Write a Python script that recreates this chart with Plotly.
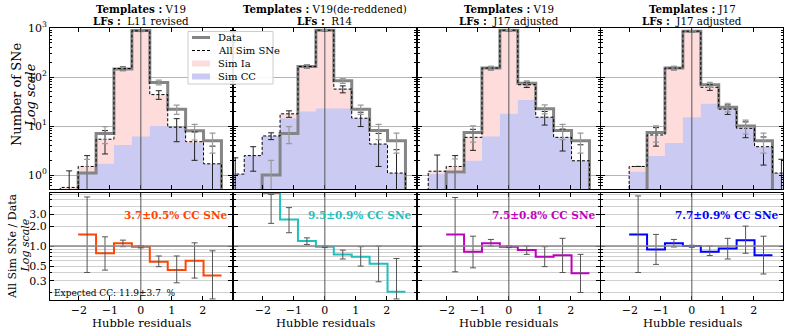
import plotly.graph_objects as go
from plotly.subplots import make_subplots

# histogram binning (Hubble residuals)
edges = [-3.178, -2.6, -2.022, -1.444, -0.867, -0.289, 0.289, 0.867, 1.444, 2.022, 2.6, 3.178]
centers = [-2.889, -2.311, -1.733, -1.156, -0.578, 0.0, 0.578, 1.156, 1.733, 2.311, 2.889]
xticks = [-2, -1, 0, 1, 2]

templates = ["V19", "V19(de-reddened)", "V19", "J17"]
lfs = ["L11 revised", "R14", "J17 adjusted", "J17 adjusted"]
cc_labels = ["3.7±0.5% CC SNe", "9.5±0.9% CC SNe", "7.5±0.8% CC SNe", "7.7±0.9% CC SNe"]
expected_cc = "Expected CC: 11.9±3.7  %"
legend_names = ["Data", "All Sim SNe", "Sim Ia", "Sim CC"]

# top panels: counts per bin
data_p1 = [0, 0, 1.1, 7.1, 146, 900, 78, 22, 8.0, 5.0, 0]
sim_p1 = [0, 0.56, 1.5, 5.4, 150, 880, 44, 9.5, 4.8, 1.7, 0]
cc_p1 = [0, 0, 1.15, 1.7, 4.1, 6.1, 10, 9.5, 4.6, 1.7, 0]
err_p1 = [0, 0.66, 1.0, 2.7, 12, 30, 8.8, 4.7, 2.8, 2.2, 0]

data_p2 = [0, 0, 1.0, 7.1, 165, 907, 84, 22, 8.1, 5.0, 0]
sim_p2 = [1.05, 2.5, 6.3, 17.8, 165, 907, 57, 14.5, 4.3, 1.1, 0]
cc_p2 = [1.05, 2.5, 6.3, 14.5, 19.8, 23, 23, 14.5, 4.3, 1.1, 0]
err_p2 = [1.2, 1.3, 1.0, 2.7, 12.8, 30, 9.2, 4.7, 2.8, 2.2, 0]

data_p3 = [0, 0, 1.15, 7.4, 153, 907, 75, 22.5, 8.1, 5.0, 0]
sim_p3 = [0, 1.2, 1.5, 5.9, 153, 907, 70, 15.2, 5.9, 1.96, 0]
cc_p3 = [0, 1.05, 1.05, 1.96, 6.1, 17.8, 34, 15.2, 5.9, 1.96, 0]
err_p3 = [0, 1.37, 1.0, 2.7, 12.4, 30, 8.7, 4.7, 2.8, 2.2, 0]

data_p4 = [0, 0, 0, 7.4, 153, 866, 70, 24.4, 10.1, 5.0, 0]
sim_p4 = [0, 0, 1.5, 6.6, 153, 866, 62, 22.2, 9.0, 3.8, 1.1]
cc_p4 = [0, 0, 1.17, 2.45, 4.5, 15.2, 28.5, 22.2, 9.0, 3.8, 1.1]
err_p4 = [0, 0, 0, 2.7, 12.4, 29, 8.4, 4.9, 3.2, 2.2, 1.0]

# bottom panels: All Sim SNe / Data (bins -1.73 .. 2.31)
ratio_p1 = [1.50, 0.78, 1.10, 0.98, 0.58, 0.435, 0.60, 0.36]
ratio_lo_p1 = [0.40, 0.435, 0.98, 0.94, 0.49, 0.28, 0.33, 0.16]
ratio_hi_p1 = [5.5, 1.38, 1.23, 1.02, 0.71, 0.71, 1.12, 0.85]

ratio_p2 = [6.3, 2.52, 1.19, 0.98, 0.75, 0.69, 0.54, 0.205]
ratio_lo_p2 = [2.2, 1.59, 1.06, 0.95, 0.64, 0.50, 0.29, 0.16]
ratio_hi_p2 = [6.0, 3.8, 1.33, 1.0, 0.87, 0.98, 1.0, 0.65]

ratio_p3 = [1.50, 0.82, 1.10, 0.98, 0.87, 0.69, 0.73, 0.39]
ratio_lo_p3 = [0.41, 0.47, 1.0, 0.95, 0.75, 0.49, 0.40, 0.20]
ratio_hi_p3 = [5.4, 1.41, 1.26, 1.02, 1.0, 0.98, 1.31, 0.75]

ratio_p4 = [1.50, 0.89, 1.10, 1.0, 0.82, 0.92, 1.23, 0.73]
ratio_lo_p4 = [0.40, 0.53, 0.97, 0.96, 0.72, 0.64, 0.78, 0.38]
ratio_hi_p4 = [5.7, 1.5, 1.26, 1.03, 1.0, 1.31, 2.0, 1.41]

data_all = [data_p1, data_p2, data_p3, data_p4]
sim_all = [sim_p1, sim_p2, sim_p3, sim_p4]
cc_all = [cc_p1, cc_p2, cc_p3, cc_p4]
err_all = [err_p1, err_p2, err_p3, err_p4]
ratio_all = [ratio_p1, ratio_p2, ratio_p3, ratio_p4]
ratio_lo_all = [ratio_lo_p1, ratio_lo_p2, ratio_lo_p3, ratio_lo_p4]
ratio_hi_all = [ratio_hi_p1, ratio_hi_p2, ratio_hi_p3, ratio_hi_p4]

ratio_colors = ["#ff4500", "#1fbfbf", "#bf00bf", "#0000ff"]
IA_COLOR, CC_COLOR, DATA_COLOR = "#ffdcdc", "#cacaf2", "#858585"
FONT = "DejaVu Serif"
FLOOR = 0.01


def step_xy(e, v):
    xs, ys = [], []
    for i, val in enumerate(v):
        y = val if val > 0 else FLOOR
        xs += [e[i], e[i + 1]]
        ys += [y, y]
    return xs, ys


def fill_xy(e, v):
    xs, ys = step_xy(e, v)
    return xs + [xs[-1], xs[0]], ys + [FLOOR, FLOOR]


fig = make_subplots(rows=2, cols=4)

# pixel geometry of the page
W, H = 789, 331
PL, PR, PT, PB = 50, 783, 28, 300  # plotting area
PW, PH = PR - PL, PB - PT
cols_px = [(50, 232), (234, 416), (418, 600), (601, 783)]
top_px, bot_px = (28, 189), (193, 300)


def px(x):
    return (x - PL) / PW


def py(y):
    return (PB - y) / PH


top_minor = [m * 10 ** d for d in range(-1, 3) for m in range(2, 10)]
bot_minor = [m * 10 ** d for d in range(-1, 1) for m in range(1, 10)]

for k in range(4):
    col = k + 1
    first = k == 0
    # --- top panel ---
    xs, ys = fill_xy(edges, sim_all[k])
    fig.add_trace(go.Scatter(x=xs, y=ys, fill="toself", fillcolor=IA_COLOR, line=dict(width=0),
                             mode="lines", hoverinfo="skip"), row=1, col=col)
    xs, ys = fill_xy(edges, cc_all[k])
    fig.add_trace(go.Scatter(x=xs, y=ys, fill="toself", fillcolor=CC_COLOR, line=dict(width=0),
                             mode="lines", hoverinfo="skip"), row=1, col=col)
    xs, ys = step_xy(edges, data_all[k])
    fig.add_trace(go.Scatter(x=xs, y=ys, mode="lines", line=dict(color=DATA_COLOR, width=3)),
                  row=1, col=col)
    xs, ys = step_xy(edges, sim_all[k])
    fig.add_trace(go.Scatter(x=xs, y=ys, mode="lines",
                             line=dict(color="black", width=1, dash="3px,2px")), row=1, col=col)
    # error bars: sim (black) and data (grey)
    sx = [c for c, s in zip(centers, sim_all[k]) if s > 0]
    sy = [s for s in sim_all[k] if s > 0]
    se = [e for e, s in zip(err_all[k], sim_all[k]) if s > 0]
    fig.add_trace(go.Scatter(x=sx, y=sy, mode="markers", marker=dict(size=1, color="rgba(0,0,0,0)"),
                             error_y=dict(type="data", array=se, color="#222222", thickness=1, width=3),
                             hoverinfo="skip"), row=1, col=col)
    dx = [c for c, d in zip(centers, data_all[k]) if d > 0]
    dy = [d for d in data_all[k] if d > 0]
    de = [e for e, d in zip(err_all[k], data_all[k]) if d > 0]
    fig.add_trace(go.Scatter(x=dx, y=dy, mode="markers", marker=dict(size=1, color="rgba(0,0,0,0)"),
                             error_y=dict(type="data", array=de, color="#9a9a9a", thickness=1.2, width=3),
                             hoverinfo="skip"), row=1, col=col)

    # --- bottom panel ---
    xs, ys = step_xy(edges[2:11], ratio_all[k])
    fig.add_trace(go.Scatter(x=xs, y=ys, mode="lines", line=dict(color=ratio_colors[k], width=2)),
                  row=2, col=col)
    lo = ratio_lo_all[k]
    hi = ratio_hi_all[k]
    fig.add_trace(go.Scatter(x=centers[2:10], y=lo, mode="markers",
                             marker=dict(size=1, color="rgba(0,0,0,0)"),
                             error_y=dict(type="data", array=[h - l for h, l in zip(hi, lo)],
                                          arrayminus=[0] * len(lo), color="#555555",
                                          thickness=1, width=3),
                             hoverinfo="skip"), row=2, col=col)

    a, b = cols_px[k]
    axis_common = dict(showline=True, linecolor="black", linewidth=1, mirror="ticks",
                       ticks="inside", tickcolor="black", zeroline=False, automargin=False,
                       tickfont=dict(family=FONT, size=11, color="black"))
    fig.update_xaxes(domain=[px(a), px(b)], range=[-2.93, 2.94], tickvals=xticks,
                     ticktext=["−2", "−1", "0", "1", "2"], showgrid=False, showticklabels=False,
                     ticklen=4, row=1, col=col, **axis_common)
    fig.update_xaxes(domain=[px(a), px(b)], range=[-2.93, 2.94], tickvals=xticks,
                     ticktext=["−2", "−1", "0", "1", "2"], showgrid=False, ticklen=4,
                     row=2, col=col, **axis_common)
    fig.update_yaxes(domain=[py(top_px[1]), py(top_px[0])], type="log", range=[-0.284, 3.003],
                     tickvals=[1, 10, 100, 1000],
                     ticktext=["10<sup>0</sup>", "10<sup>1</sup>", "10<sup>2</sup>", "10<sup>3</sup>"],
                     showgrid=True, gridcolor="#b4b4b4", gridwidth=1, ticklen=4,
                     showticklabels=first,
                     minor=dict(tickvals=top_minor, ticks="inside", ticklen=2, tickcolor="black",
                                showgrid=False),
                     row=1, col=col, **axis_common)
    fig.update_yaxes(domain=[py(bot_px[1]), py(bot_px[0])], type="log", range=[-0.812, 0.8],
                     tickvals=[0.3, 0.5, 1.0, 2.0, 3.0],
                     ticktext=["0.3", "0.5", "1.0", "2.0", "3.0"],
                     showgrid=True, gridcolor="#cfcfcf", gridwidth=1.3, ticklen=4,
                     showticklabels=first,
                     minor=dict(tickvals=bot_minor, ticks="inside", ticklen=2, tickcolor="black",
                                showgrid=True, gridcolor="#cfcfcf", gridwidth=1.3),
                     row=2, col=col, **axis_common)

    # reference lines
    xr = "x" if col == 1 else f"x{col}"
    yr = "y" if col == 1 else f"y{col}"
    fig.add_shape(type="line", xref=xr, yref=f"{yr} domain", x0=0, x1=0, y0=0, y1=1,
                  line=dict(color="#555555", width=1))
    fig.add_shape(type="line", xref=f"x{col + 4}", yref=f"y{col + 4} domain", x0=0, x1=0, y0=0, y1=1,
                  line=dict(color="#555555", width=1))
    fig.add_shape(type="line", xref=f"x{col + 4} domain", yref=f"y{col + 4}", x0=0, x1=1, y0=1, y1=1,
                  line=dict(color="#8a8a8a", width=1.5))

    # titles
    xc = px((a + b) / 2)
    fig.add_annotation(x=xc, y=py(9.5), xref="paper", yref="paper", xanchor="center", yanchor="middle",
                       text=f"<b>Templates :</b> {templates[k]}", showarrow=False,
                       font=dict(family=FONT, size=10.3, color="black"))
    fig.add_annotation(x=xc, y=py(21.5), xref="paper", yref="paper", xanchor="center", yanchor="middle",
                       text=f"<b>LFs :</b>  {lfs[k]}", showarrow=False,
                       font=dict(family=FONT, size=10.3, color="black"))
    # x-axis title
    fig.add_annotation(x=xc, y=py(322.5), xref="paper", yref="paper", xanchor="center", yanchor="middle",
                       text="Hubble residuals", showarrow=False,
                       font=dict(family=FONT, size=11.5, color="black"))
    # CC fraction text
    fig.add_annotation(x=px(b - 2), y=py(215), xref="paper", yref="paper",
                       text=f"<b>{cc_labels[k]}</b>", showarrow=False, xanchor="right",
                       yanchor="middle", font=dict(family=FONT, size=10.5, color=ratio_colors[k]))

fig.add_annotation(x=px(52), y=py(293), xref="paper", yref="paper",
                   text=expected_cc, showarrow=False, xanchor="left", yanchor="middle",
                   font=dict(family=FONT, size=9, color="black"))

# y-axis titles (two lines each)
for text, xline, yline, size, italic in (
    ("Number of SNe", 16, 95, 13, False), ("Log scale", 30, 95, 13, True),
    ("All Sim SNe / Data", 12, 246, 11, False), ("Log scale", 24.5, 246, 11, True),
):
    fig.add_annotation(x=px(xline), y=py(yline), xref="paper", yref="paper", xanchor="center",
                       yanchor="middle", text=f"<i>{text}</i>" if italic else text, showarrow=False,
                       textangle=-90, font=dict(family=FONT, size=size, color="black"))

# hand-built legend (compact, like the original)
fig.add_shape(type="rect", xref="paper", yref="paper", x0=px(188), x1=px(273), y0=py(84), y1=py(31.5),
              fillcolor="rgba(255,255,255,0.9)", line=dict(color="#cccccc", width=1), layer="above")
legend_y = [37.5, 50.5, 63.5, 76.5]
fig.add_shape(type="line", xref="paper", yref="paper", x0=px(192), x1=px(210),
              y0=py(legend_y[0]), y1=py(legend_y[0]), line=dict(color=DATA_COLOR, width=3), layer="above")
fig.add_shape(type="line", xref="paper", yref="paper", x0=px(192), x1=px(210),
              y0=py(legend_y[1]), y1=py(legend_y[1]), line=dict(color="black", width=1, dash="3px,2px"),
              layer="above")
for j, col_ in ((2, IA_COLOR), (3, CC_COLOR)):
    fig.add_shape(type="rect", xref="paper", yref="paper", x0=px(192), x1=px(210),
                  y0=py(legend_y[j] + 3), y1=py(legend_y[j] - 3), fillcolor=col_, line=dict(width=0),
                  layer="above")
for j, name in enumerate(legend_names):
    fig.add_annotation(x=px(216), y=py(legend_y[j]), xref="paper", yref="paper", xanchor="left",
                       yanchor="middle", text=name, showarrow=False,
                       font=dict(family=FONT, size=10, color="black"))

fig.update_layout(
    width=W, height=H,
    margin=dict(l=PL, r=W - PR, t=PT, b=H - PB),
    paper_bgcolor="white", plot_bgcolor="white",
    font=dict(family=FONT, color="black"),
    showlegend=False,
    hovermode=False,
)

# the page body has a default 8px margin; remove it so the figure sits at the window origin
fig.write_html("out.html", config={"displayModeBar": False},
               post_script="document.body.style.margin='0';")
